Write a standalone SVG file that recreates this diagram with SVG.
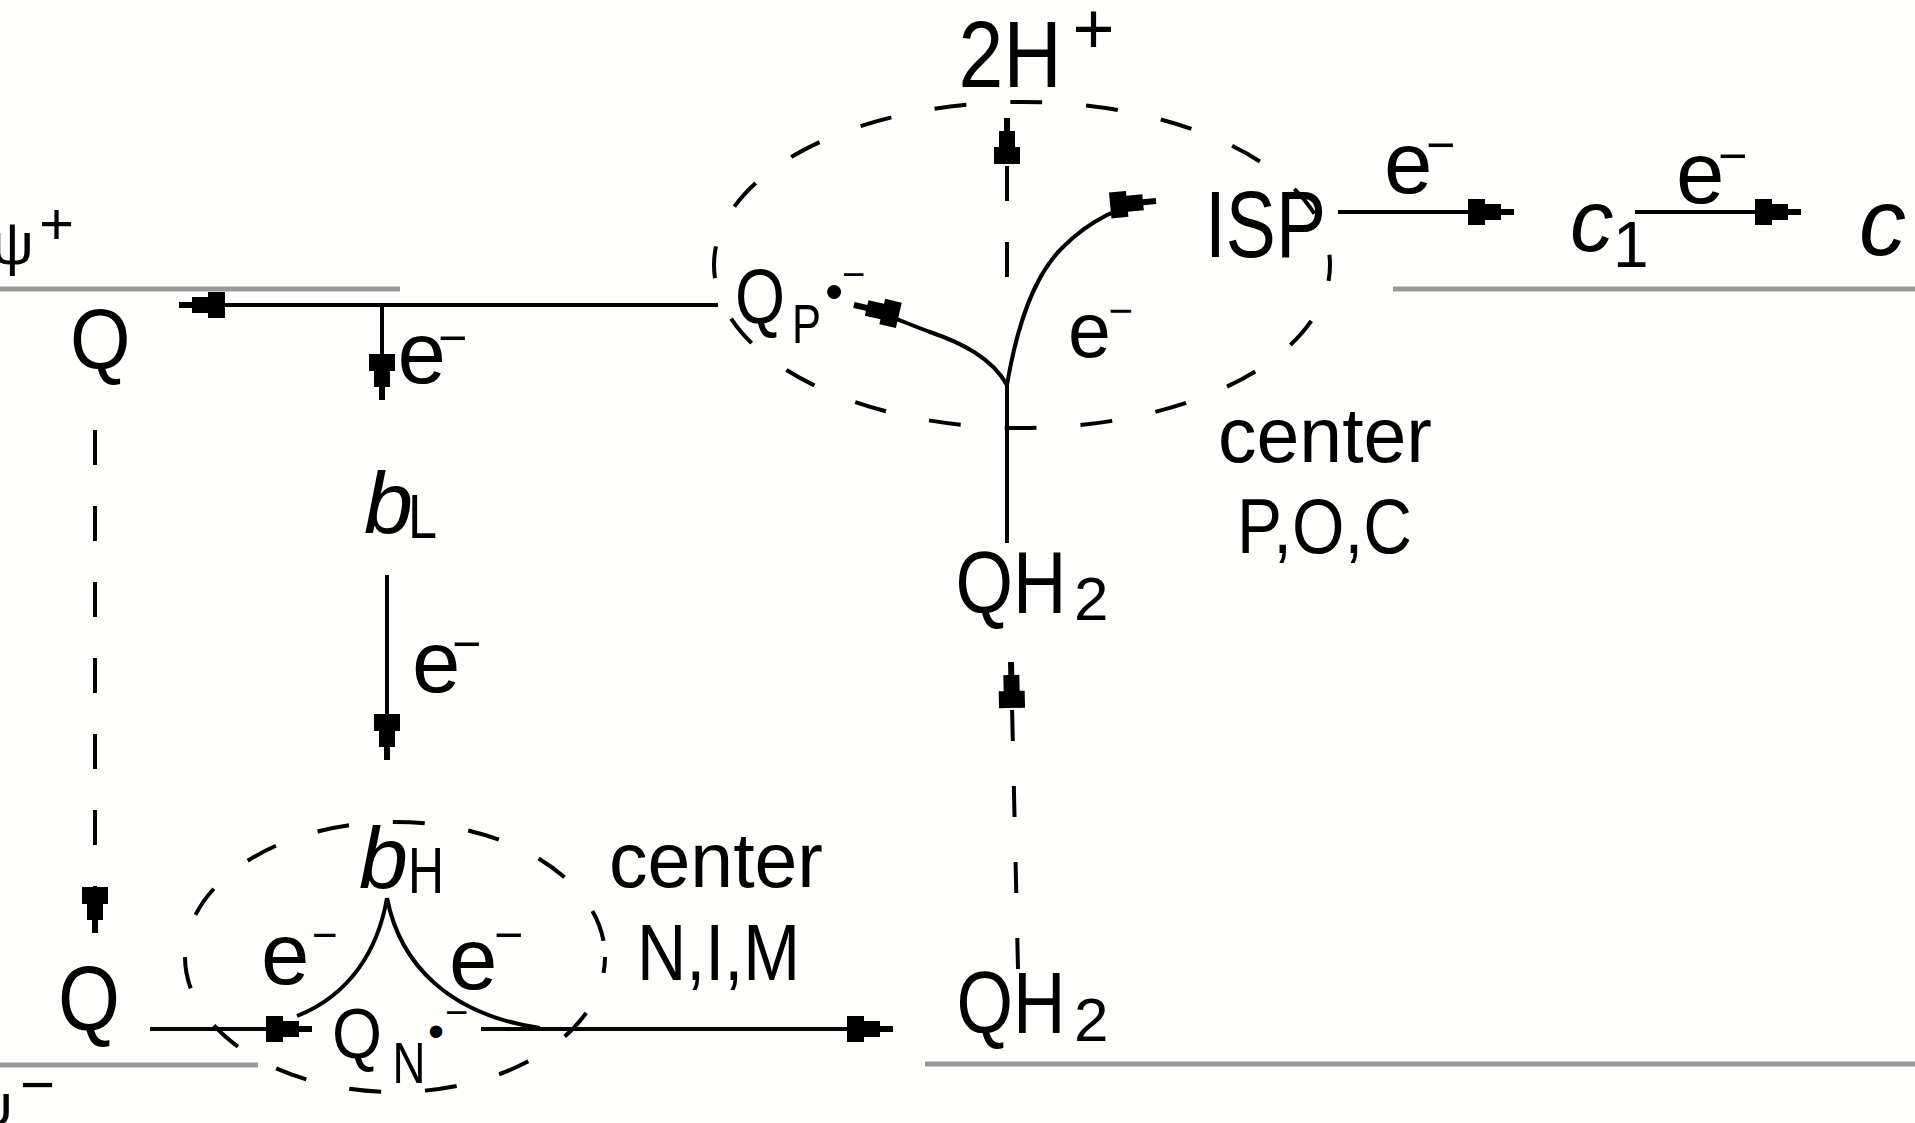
<svg xmlns="http://www.w3.org/2000/svg" width="1915" height="1123" viewBox="0 0 1915 1123">
<defs>
<style>
.t{font-family:"Liberation Sans",Arial,sans-serif;fill:#000}
.i{font-style:italic}
.ln{stroke:#000;stroke-width:4;fill:none}
.ds{stroke-dasharray:35 41}
.mem{stroke:#999;stroke-width:5;fill:none}
.ell{fill:none;stroke:#000;stroke-width:4;stroke-dasharray:32 44}
</style>
<marker id="ah" markerUnits="userSpaceOnUse" viewBox="-48 -15 50 30" markerWidth="50" markerHeight="30" refX="0" refY="0" orient="auto" overflow="visible">
<path d="M0,-3 L-13,-3 L-13,-8 L-29,-8 L-29,-13 L-46,-13 L-46,13 L-29,13 L-29,8 L-13,8 L-13,3 L0,3 Z" fill="#000"/>
</marker>
</defs>
<rect width="1915" height="1123" fill="#fefefd"/>
<g id="membrane">
<line class="mem" x1="0" y1="289" x2="400" y2="289"/>
<line class="mem" x1="1393" y1="289" x2="1915" y2="289"/>
<line class="mem" x1="0" y1="1065" x2="258" y2="1065"/>
<line class="mem" x1="925" y1="1064" x2="1915" y2="1064"/>
</g>
<g id="center-P">
<ellipse class="ell" cx="1022" cy="265" rx="308" ry="163" stroke-dashoffset="16"/>
<text class="t"><tspan x="1218" y="462" font-size="77">center</tspan><tspan x="1237" y="553" font-size="77" textLength="175" lengthAdjust="spacingAndGlyphs">P,O,C</tspan></text>
</g>
<g id="center-N">
<ellipse class="ell" cx="395" cy="957" rx="210" ry="135" stroke-dashoffset="16"/>
<text class="t"><tspan x="609" y="887" font-size="77">center</tspan><tspan x="637" y="980" font-size="80" textLength="163" lengthAdjust="spacingAndGlyphs">N,I,M</tspan></text>
</g>
<g id="connectors">
<line class="ln" x1="718" y1="305" x2="179" y2="305" marker-end="url(#ah)"/>
<line class="ln" x1="382" y1="305" x2="382" y2="400" marker-end="url(#ah)"/>
<line class="ln" x1="387" y1="575" x2="387" y2="760" marker-end="url(#ah)"/>
<line class="ln ds" x1="95" y1="430" x2="95" y2="933" marker-end="url(#ah)"/>
<line class="ln" x1="1018" y1="969" x2="1011" y2="662" stroke-dasharray="31 45" marker-end="url(#ah)"/>
<line class="ln ds" x1="1007" y1="277" x2="1007" y2="118" marker-end="url(#ah)"/>
<line class="ln" x1="1007" y1="385" x2="1007" y2="543"/>
<path class="ln" d="M1007,385 C992,358 962,343 930,332 C905,323 880,311 854,305" marker-end="url(#ah)"/>
<path class="ln" d="M1007,385 C1018,320 1035,275 1062,248 C1085,225 1115,205 1156,201" marker-end="url(#ah)"/>
<line class="ln" x1="1338" y1="212" x2="1514" y2="212" marker-end="url(#ah)"/>
<line class="ln" x1="1635" y1="212" x2="1801" y2="212" marker-end="url(#ah)"/>
<line class="ln" x1="150" y1="1029" x2="312" y2="1029" marker-end="url(#ah)"/>
<line class="ln" x1="481" y1="1029" x2="893" y2="1029" marker-end="url(#ah)"/>
<path class="ln" d="M387,898 C378,950 350,995 297,1016"/>
<path class="ln" d="M387,898 C400,965 450,1015 540,1028"/>
<text class="t" font-size="87"><tspan x="397.5" y="383">e</tspan><tspan x="438" y="354.5" font-size="50">−</tspan></text>
<text class="t" font-size="87"><tspan x="412" y="692">e</tspan><tspan x="452" y="661" font-size="50">−</tspan></text>
<text class="t" font-size="87"><tspan x="1384" y="193">e</tspan><tspan x="1426" y="162" font-size="50">−</tspan></text>
<text class="t" font-size="87"><tspan x="1676" y="203">e</tspan><tspan x="1718" y="173" font-size="50">−</tspan></text>
<text class="t" font-size="77"><tspan x="1068" y="357">e</tspan><tspan x="1108.6" y="324.5" font-size="42">−</tspan></text>
<text class="t" font-size="87"><tspan x="261" y="984">e</tspan><tspan x="312" y="950" font-size="44">−</tspan></text>
<text class="t" font-size="87"><tspan x="449" y="989">e</tspan><tspan x="494" y="952" font-size="50">−</tspan></text>
</g>
<g id="psi-top"><text class="t" font-size="60"><tspan x="-9" y="264">ψ</tspan><tspan x="39" y="244">+</tspan></text></g>
<g id="psi-bottom"><text class="t" font-size="60"><tspan x="-30" y="1125">ψ</tspan><tspan x="20" y="1105">−</tspan></text></g>
<g id="Q-top"><text class="t" x="70" y="369" font-size="85" textLength="60.5" lengthAdjust="spacingAndGlyphs">Q</text></g>
<g id="QP"><text class="t" font-size="78"><tspan x="735" y="323" textLength="50" lengthAdjust="spacingAndGlyphs">Q</tspan><tspan x="792" y="343" font-size="56" textLength="29" lengthAdjust="spacingAndGlyphs">P</tspan><tspan x="825" y="309" font-size="52">•</tspan><tspan x="842" y="288" font-size="40">−</tspan></text></g>
<g id="H2"><text class="t" font-size="94"><tspan x="958.6" y="87" textLength="103" lengthAdjust="spacingAndGlyphs">2H</tspan><tspan x="1072.5" y="53" font-size="72">+</tspan></text></g>
<g id="ISP"><text class="t" x="1205" y="257" font-size="95" textLength="121" lengthAdjust="spacingAndGlyphs">ISP</text></g>
<g id="c1"><text class="t" font-size="87"><tspan class="i" x="1570" y="251">c</tspan><tspan x="1613" y="267" font-size="64">1</tspan></text></g>
<g id="c"><text class="t i" x="1859" y="255" font-size="94">c</text></g>
<g id="bL"><text class="t" font-size="88"><tspan class="i" x="364" y="533">b</tspan><tspan x="408" y="538" font-size="63" textLength="29" lengthAdjust="spacingAndGlyphs">L</tspan></text></g>
<g id="bH"><text class="t" font-size="88"><tspan class="i" x="359" y="888">b</tspan><tspan x="408" y="893" font-size="64" textLength="36" lengthAdjust="spacingAndGlyphs">H</tspan></text></g>
<g id="QH2-top"><text class="t" font-size="87"><tspan x="955.5" y="613" textLength="111" lengthAdjust="spacingAndGlyphs">QH</tspan><tspan x="1074" y="620" font-size="62">2</tspan></text></g>
<g id="QH2-bottom"><text class="t" font-size="88"><tspan x="956.6" y="1033" textLength="109" lengthAdjust="spacingAndGlyphs">QH</tspan><tspan x="1074" y="1041" font-size="62">2</tspan></text></g>
<g id="Q-bottom"><text class="t" x="58" y="1030" font-size="91" textLength="62" lengthAdjust="spacingAndGlyphs">Q</text></g>
<g id="QN"><text class="t" font-size="71"><tspan x="332" y="1058" textLength="50" lengthAdjust="spacingAndGlyphs">Q</tspan><tspan x="392.5" y="1083" font-size="57" textLength="33" lengthAdjust="spacingAndGlyphs">N</tspan><tspan x="428" y="1047" font-size="46">•</tspan><tspan x="445" y="1026" font-size="40">−</tspan></text></g>
</svg>
